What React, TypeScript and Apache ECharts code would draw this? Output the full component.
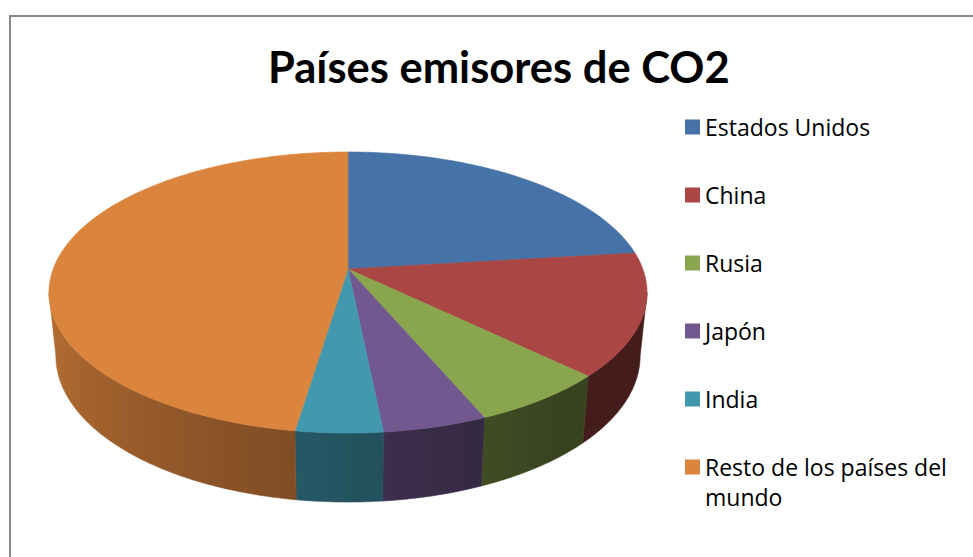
import React, { useEffect, useRef } from 'react';
import * as echarts from 'echarts';

// ---- data ----
const categories = [
  'Estados Unidos',
  'China',
  'Rusia',
  'Japón',
  'India',
  'Resto de los países del mundo',
];
const values = [23.1, 14.1, 6.4, 4.8, 4.0, 47.6];
const colors = ['#4572A7', '#AA4643', '#89A54E', '#71588F', '#4198AF', '#DB843D'];
const titleText = 'Países emisores de CO2';

// ---- 3D pie projection (perspective tilted disk) ----
const CX = 348;
const CY = 269;
const RA = 136.6; // vertical radius factor
const RB = 294.8; // horizontal radius factor
const K = 0.1673; // perspective strength

function rim(a: number): [number, number, number] {
  const u = Math.sin(a);
  const v = -Math.cos(a);
  const d = 1 - K * v;
  return [CX + (RB * u) / d, CY + (RA * v) / d, v];
}
function bottom(a: number): [number, number] {
  const [x, y, v] = rim(a);
  return [CX + (x - CX) * 0.977, y + 62 + 7 * v];
}
function shade(deg: number) {
  const t = Math.min(1, Math.max(0, (deg - 140) / 120));
  return 0.4 + 0.45 * t;
}
function scaleColor(hex: string, f: number) {
  const n = parseInt(hex.slice(1), 16);
  const r = Math.round(((n >> 16) & 255) * f);
  const g = Math.round(((n >> 8) & 255) * f);
  const b = Math.round((n & 255) * f);
  return `rgb(${r},${g},${b})`;
}

function makeRenderItem(i: number) {
  return (params: any, api: any) => {
    const total = values.reduce((s, x) => s + x, 0);
    const start = values.slice(0, i).reduce((s, x) => s + x, 0);
    const val = api.value(0);
    const a1 = (start / total) * Math.PI * 2;
    const a2 = ((start + val) / total) * Math.PI * 2;
    const children: any[] = [];
    const step = Math.PI / 180;

    // side wall (front facing part only)
    const aR = Math.acos(-K);
    const aL = Math.PI * 2 - aR;
    const b1 = Math.max(a1, aR);
    const b2 = Math.min(a2, aL);
    if (b2 > b1) {
      const n = Math.max(2, Math.ceil((b2 - b1) / step) + 1);
      const topPts: number[][] = [];
      const botPts: number[][] = [];
      for (let j = 0; j < n; j++) {
        const a = b1 + ((b2 - b1) * j) / (n - 1);
        const r = rim(a);
        topPts.push([r[0], r[1]]);
        botPts.push(bottom(a));
      }
      const pts = topPts.concat(botPts.reverse());
      let minX = Infinity;
      let maxX = -Infinity;
      pts.forEach((p) => {
        minX = Math.min(minX, p[0]);
        maxX = Math.max(maxX, p[0]);
      });
      const stops: any[] = [];
      const m = 8;
      for (let j = 0; j <= m; j++) {
        const a = b2 - ((b2 - b1) * j) / m;
        const x = rim(a)[0];
        let off = (x - minX) / Math.max(1e-6, maxX - minX);
        off = Math.min(1, Math.max(0, off));
        if (stops.length && off < stops[stops.length - 1].offset) off = stops[stops.length - 1].offset;
        stops.push({ offset: off, color: scaleColor(colors[i], shade((a * 180) / Math.PI)) });
      }
      const grad = new echarts.graphic.LinearGradient(0, 0, 1, 0, stops);
      children.push({
        type: 'polygon',
        shape: { points: pts },
        style: { fill: grad, stroke: grad, lineWidth: 0.6 },
      });
    }

    // top face
    const nt = Math.max(2, Math.ceil((a2 - a1) / step) + 1);
    const tpts: number[][] = [[CX, CY]];
    for (let j = 0; j < nt; j++) {
      const a = a1 + ((a2 - a1) * j) / (nt - 1);
      const r = rim(a);
      tpts.push([r[0], r[1]]);
    }
    children.push({
      type: 'polygon',
      shape: { points: tpts },
      style: { fill: colors[i], stroke: colors[i], lineWidth: 0.6 },
    });
    return { type: 'group', children };
  };
}

export default function App() {
  const ref = useRef<HTMLDivElement>(null);
  useEffect(() => {
    if (!ref.current) return;
    const chart = echarts.init(ref.current, undefined, { renderer: 'svg' });
    const lineH = 30;
    const legendText = {
      fontFamily: 'Open Sans',
      fontSize: 23,
      lineHeight: lineH,
      color: '#000000',
    };
    const legendBase = {
      orient: 'vertical',
      left: 685,
      padding: 0,
      icon: 'rect',
      itemWidth: 15,
      itemHeight: 15,
      itemGap: 38,
      textStyle: legendText,
    };
    const option: any = {
      animation: false,
      backgroundColor: '#ffffff',
      title: {
        text: titleText,
        left: 263,
        top: 39,
        textStyle: {
          fontFamily: 'Lato',
          fontWeight: 'bold',
          fontSize: 43.5,
          color: '#000000',
        },
      },
      legend: [
        {
          ...legendBase,
          top: 112,
          height: 420,
          data: categories.slice(0, 5),
        },
        {
          ...legendBase,
          top: 422,
          height: 200,
          data: categories.slice(5),
          // first (empty) line keeps the icon aligned with the first text line
          formatter: () => '\nResto de los países del\nmundo',
        },
      ],
      graphic: [
        {
          type: 'rect',
          shape: { x: 10, y: 16, width: 1100, height: 700 },
          style: { fill: 'none', stroke: '#888888', lineWidth: 2 },
          silent: true,
        },
      ],
      series: categories.map((name, i) => ({
        type: 'custom',
        name,
        coordinateSystem: 'none',
        itemStyle: { color: colors[i] },
        data: [{ name, value: [values[i]] }],
        renderItem: makeRenderItem(i),
      })),
    };
    chart.setOption(option);
    return () => chart.dispose();
  }, []);
  return (
    <div
      ref={ref}
      style={{ position: 'absolute', left: 0, top: 0, width: 973, height: 557 }}
    />
  );
}
